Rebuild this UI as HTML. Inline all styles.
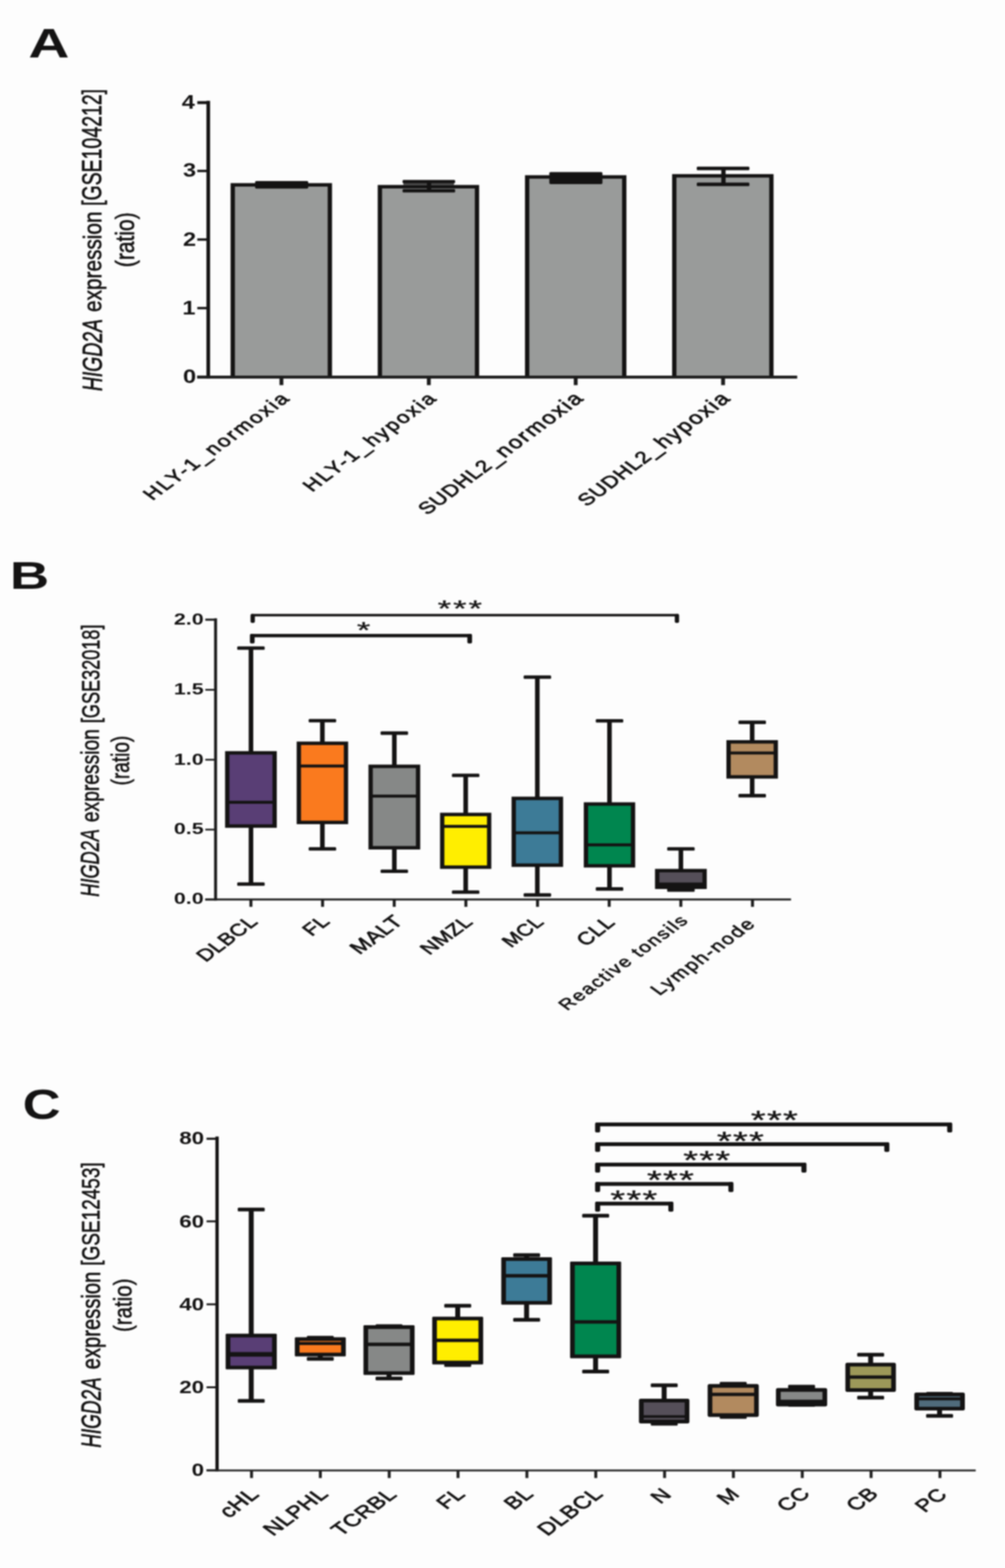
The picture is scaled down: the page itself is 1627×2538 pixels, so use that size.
<!DOCTYPE html>
<html lang="en">
<head>
<meta charset="utf-8">
<title>HIGD2A expression</title>
<style>
html,body{margin:0;padding:0;background:#fdfdfd;}
body{width:1627px;height:2538px;overflow:hidden;}
svg{display:block;}
text{font-family:'Liberation Sans', Arial, Helvetica, sans-serif;fill:#141313;}
</style>
</head>
<body>
<svg width="1627" height="2538" viewBox="0 0 1627 2538">
<defs><filter id="soft" x="0" y="0" width="1627" height="2538" filterUnits="userSpaceOnUse" color-interpolation-filters="sRGB"><feGaussianBlur stdDeviation="1.0"/></filter></defs>
<g filter="url(#soft)">
<rect x="-10" y="-10" width="1647" height="2558" fill="#fdfdfd"/>
<g id="shapes" shape-rendering="geometricPrecision">
<rect x="373.3" y="296.4" width="164.2" height="313.4" fill="#141313"/>
<rect x="380.3" y="302.0" width="150.2" height="307.8" fill="#999b9a"/>
<rect x="611.5" y="299.4" width="164.2" height="310.4" fill="#141313"/>
<rect x="618.5" y="305.0" width="150.2" height="304.8" fill="#999b9a"/>
<rect x="849.9" y="283.6" width="164.2" height="326.2" fill="#141313"/>
<rect x="856.9" y="289.2" width="150.2" height="320.6" fill="#999b9a"/>
<rect x="1088.1" y="281.8" width="164.2" height="328.0" fill="#141313"/>
<rect x="1095.1" y="287.4" width="150.2" height="322.4" fill="#999b9a"/>
<rect x="413.0" y="292.9" width="86.0" height="12.3" fill="#141313" rx="2"/>
<rect x="653.0" y="295.0" width="82.0" height="5.0" fill="#4a4a4a"/>
<rect x="691.1" y="293.5" width="7.0" height="15.5" fill="#141313"/>
<rect x="651.7" y="291.3" width="85.1" height="5.2" rx="1.5" fill="#141313"/>
<rect x="651.7" y="305.9" width="85.1" height="5.6" rx="1.5" fill="#141313"/>
<rect x="889.3" y="278.6" width="86" height="19.4" rx="2" fill="#141313"/>
<rect x="1167.7" y="272.0" width="7.0" height="27.0" fill="#141313"/>
<rect x="1128.0" y="269.8" width="85.2" height="5.6" rx="1.5" fill="#141313"/>
<rect x="1128.0" y="295.6" width="85.2" height="5.6" rx="1.5" fill="#141313"/>
<rect x="334.2" y="163.2" width="5.9" height="449.2" fill="#141313"/>
<rect x="319.4" y="607.9" width="17.7" height="3.8" fill="#141313"/>
<rect x="319.4" y="496.8" width="17.7" height="3.8" fill="#141313"/>
<rect x="319.4" y="385.8" width="17.7" height="3.8" fill="#141313"/>
<rect x="319.4" y="274.8" width="17.7" height="3.8" fill="#141313"/>
<rect x="319.4" y="163.7" width="17.7" height="4.8" fill="#141313"/>
<rect x="319.2" y="608.0" width="971.4" height="4.8" fill="#1c1c1c"/>
<rect x="452.5" y="609.8" width="6.2" height="13.6" fill="#1c1c1c"/>
<rect x="691.1" y="609.8" width="6.2" height="13.6" fill="#1c1c1c"/>
<rect x="928.9" y="609.8" width="6.2" height="13.6" fill="#1c1c1c"/>
<rect x="1167.5" y="609.8" width="6.2" height="13.6" fill="#1c1c1c"/>
<rect x="402.6" y="1049.0" width="7.4" height="167.8" fill="#141313"/>
<rect x="402.6" y="1338.9" width="7.4" height="92.1" fill="#141313"/>
<rect x="384.0" y="1046.2" width="44.5" height="5.6" rx="1.5" fill="#141313"/>
<rect x="384.0" y="1428.2" width="44.5" height="5.6" rx="1.5" fill="#141313"/>
<rect x="364.4" y="1215.8" width="83.7" height="124.1" rx="0" fill="#141313"/>
<rect x="371.4" y="1221.4" width="69.7" height="112.9" fill="#593e75"/>
<rect x="365.4" y="1296.2" width="81.7" height="4.8" fill="#141313"/>
<rect x="518.2" y="1166.5" width="7.4" height="34.8" fill="#141313"/>
<rect x="518.2" y="1333.0" width="7.4" height="41.0" fill="#141313"/>
<rect x="499.7" y="1163.7" width="44.5" height="5.6" rx="1.5" fill="#141313"/>
<rect x="499.7" y="1371.2" width="44.5" height="5.6" rx="1.5" fill="#141313"/>
<rect x="480.3" y="1200.3" width="83.3" height="133.7" rx="0" fill="#141313"/>
<rect x="487.3" y="1205.9" width="69.3" height="122.5" fill="#fa7a1e"/>
<rect x="481.3" y="1237.5" width="81.3" height="4.8" fill="#141313"/>
<rect x="634.7" y="1186.6" width="7.4" height="52.0" fill="#141313"/>
<rect x="634.7" y="1374.0" width="7.4" height="36.3" fill="#141313"/>
<rect x="616.1" y="1183.8" width="44.5" height="5.6" rx="1.5" fill="#141313"/>
<rect x="616.1" y="1407.5" width="44.5" height="5.6" rx="1.5" fill="#141313"/>
<rect x="596.5" y="1237.6" width="83.8" height="137.4" rx="0" fill="#141313"/>
<rect x="603.5" y="1243.2" width="69.8" height="126.2" fill="#868887"/>
<rect x="597.5" y="1286.2" width="81.8" height="4.8" fill="#141313"/>
<rect x="750.2" y="1255.0" width="7.4" height="61.5" fill="#141313"/>
<rect x="750.2" y="1405.4" width="7.4" height="38.6" fill="#141313"/>
<rect x="731.6" y="1252.2" width="44.5" height="5.6" rx="1.5" fill="#141313"/>
<rect x="731.6" y="1441.2" width="44.5" height="5.6" rx="1.5" fill="#141313"/>
<rect x="712.4" y="1315.5" width="83.0" height="90.9" rx="0" fill="#141313"/>
<rect x="719.4" y="1321.1" width="69.0" height="79.7" fill="#ffee00"/>
<rect x="713.4" y="1335.2" width="81.0" height="4.8" fill="#141313"/>
<rect x="866.2" y="1096.0" width="7.4" height="194.5" fill="#141313"/>
<rect x="866.2" y="1402.2" width="7.4" height="46.4" fill="#141313"/>
<rect x="847.7" y="1093.2" width="44.5" height="5.6" rx="1.5" fill="#141313"/>
<rect x="847.7" y="1445.8" width="44.5" height="5.6" rx="1.5" fill="#141313"/>
<rect x="828.2" y="1289.5" width="83.4" height="113.7" rx="0" fill="#141313"/>
<rect x="835.2" y="1295.1" width="69.4" height="102.5" fill="#3d7b97"/>
<rect x="829.2" y="1345.6" width="81.4" height="4.8" fill="#141313"/>
<rect x="983.0" y="1166.8" width="7.4" height="132.8" fill="#141313"/>
<rect x="983.0" y="1403.2" width="7.4" height="35.7" fill="#141313"/>
<rect x="964.5" y="1164.0" width="44.5" height="5.6" rx="1.5" fill="#141313"/>
<rect x="964.5" y="1436.1" width="44.5" height="5.6" rx="1.5" fill="#141313"/>
<rect x="945.1" y="1298.6" width="83.2" height="105.6" rx="0" fill="#141313"/>
<rect x="952.1" y="1304.2" width="69.2" height="94.4" fill="#00864f"/>
<rect x="946.1" y="1365.1" width="81.2" height="4.8" fill="#141313"/>
<rect x="1098.6" y="1374.0" width="7.4" height="33.4" fill="#141313"/>
<rect x="1098.6" y="1437.9" width="7.4" height="2.7" fill="#141313"/>
<rect x="1080.1" y="1371.2" width="44.5" height="5.6" rx="1.5" fill="#141313"/>
<rect x="1080.1" y="1437.8" width="44.5" height="5.6" rx="1.5" fill="#141313"/>
<rect x="1060.4" y="1406.4" width="83.8" height="32.5" rx="0" fill="#141313"/>
<rect x="1067.4" y="1412.0" width="69.8" height="21.3" fill="#554f59"/>
<rect x="1062.4" y="1428.5" width="79.8" height="10.4" fill="#141313"/>
<rect x="1214.0" y="1169.1" width="7.4" height="29.9" fill="#141313"/>
<rect x="1214.0" y="1259.3" width="7.4" height="28.6" fill="#141313"/>
<rect x="1195.5" y="1166.3" width="44.5" height="5.6" rx="1.5" fill="#141313"/>
<rect x="1195.5" y="1285.1" width="44.5" height="5.6" rx="1.5" fill="#141313"/>
<rect x="1176.0" y="1198.0" width="83.4" height="62.3" rx="0" fill="#141313"/>
<rect x="1183.0" y="1203.6" width="69.4" height="51.1" fill="#b28a5f"/>
<rect x="1177.0" y="1216.4" width="81.4" height="4.8" fill="#141313"/>
<rect x="406.6" y="993.7" width="691.8" height="4.0" fill="#141313"/>
<rect x="405.6" y="993.7" width="7.0" height="14.5" rx="2.5" fill="#141313"/>
<rect x="1092.4" y="993.7" width="7.0" height="14.5" rx="2.5" fill="#141313"/>
<rect x="405.6" y="1026.1" width="357.6" height="5.4" fill="#141313"/>
<rect x="404.6" y="1026.1" width="7.6" height="15.3" rx="2.5" fill="#141313"/>
<rect x="756.6" y="1026.1" width="7.6" height="15.3" rx="2.5" fill="#141313"/>
<rect x="346.6" y="1000.8" width="4.8" height="456.8" fill="#1c1c1c"/>
<rect x="332.4" y="1454.6" width="16.6" height="2.8" fill="#1c1c1c"/>
<rect x="332.4" y="1341.4" width="16.6" height="2.8" fill="#1c1c1c"/>
<rect x="332.4" y="1228.3" width="16.6" height="2.8" fill="#1c1c1c"/>
<rect x="332.4" y="1115.1" width="16.6" height="2.8" fill="#1c1c1c"/>
<rect x="332.4" y="1001.3" width="16.6" height="3.4" fill="#1c1c1c"/>
<rect x="332.2" y="1454.3" width="948.4" height="3.2" fill="#1c1c1c"/>
<rect x="403.8" y="1456.0" width="4.8" height="11.8" fill="#1c1c1c"/>
<rect x="519.8" y="1456.0" width="4.8" height="11.8" fill="#1c1c1c"/>
<rect x="635.8" y="1456.0" width="4.8" height="11.8" fill="#1c1c1c"/>
<rect x="751.8" y="1456.0" width="4.8" height="11.8" fill="#1c1c1c"/>
<rect x="867.8" y="1456.0" width="4.8" height="11.8" fill="#1c1c1c"/>
<rect x="983.8" y="1456.0" width="4.8" height="11.8" fill="#1c1c1c"/>
<rect x="1099.8" y="1456.0" width="4.8" height="11.8" fill="#1c1c1c"/>
<rect x="1215.8" y="1456.0" width="4.8" height="11.8" fill="#1c1c1c"/>
<rect x="402.7" y="1957.8" width="8.0" height="202.0" fill="#141313"/>
<rect x="402.7" y="2215.6" width="8.0" height="51.9" fill="#141313"/>
<rect x="384.9" y="1954.8" width="43.6" height="6.0" rx="1.5" fill="#141313"/>
<rect x="384.9" y="2264.5" width="43.6" height="6.0" rx="1.5" fill="#141313"/>
<rect x="365.3" y="2158.8" width="82.8" height="57.8" rx="1.5" fill="#141313"/>
<rect x="372.9" y="2164.8" width="67.6" height="45.8" fill="#593e75"/>
<rect x="366.3" y="2188.5" width="80.8" height="7.4" fill="#141313"/>
<rect x="514.5" y="2194.5" width="8.0" height="4.9" fill="#141313"/>
<rect x="496.7" y="2162.2" width="43.6" height="6.0" rx="1.5" fill="#141313"/>
<rect x="496.7" y="2196.4" width="43.6" height="6.0" rx="1.5" fill="#141313"/>
<rect x="477.3" y="2164.6" width="82.5" height="30.9" rx="1.5" fill="#141313"/>
<rect x="484.9" y="2170.6" width="67.3" height="18.9" fill="#fa7a1e"/>
<rect x="478.3" y="2172.1" width="80.5" height="5.0" fill="#141313"/>
<rect x="625.8" y="2224.6" width="8.0" height="6.6" fill="#141313"/>
<rect x="608.0" y="2143.4" width="43.6" height="6.0" rx="1.5" fill="#141313"/>
<rect x="608.0" y="2228.2" width="43.6" height="6.0" rx="1.5" fill="#141313"/>
<rect x="588.4" y="2145.1" width="82.8" height="80.5" rx="1.5" fill="#141313"/>
<rect x="596.0" y="2151.1" width="67.6" height="68.5" fill="#868887"/>
<rect x="589.4" y="2173.2" width="80.8" height="5.6" fill="#141313"/>
<rect x="737.0" y="2113.6" width="8.0" height="18.6" fill="#141313"/>
<rect x="737.0" y="2207.4" width="8.0" height="2.0" fill="#141313"/>
<rect x="719.2" y="2110.6" width="43.6" height="6.0" rx="1.5" fill="#141313"/>
<rect x="719.2" y="2206.4" width="43.6" height="6.0" rx="1.5" fill="#141313"/>
<rect x="699.7" y="2131.2" width="82.5" height="77.2" rx="1.5" fill="#141313"/>
<rect x="707.3" y="2137.2" width="67.3" height="65.2" fill="#ffee00"/>
<rect x="700.7" y="2166.7" width="80.5" height="5.6" fill="#141313"/>
<rect x="848.5" y="2031.6" width="8.0" height="4.3" fill="#141313"/>
<rect x="848.5" y="2110.8" width="8.0" height="25.4" fill="#141313"/>
<rect x="830.8" y="2028.6" width="43.6" height="6.0" rx="1.5" fill="#141313"/>
<rect x="830.8" y="2133.2" width="43.6" height="6.0" rx="1.5" fill="#141313"/>
<rect x="811.5" y="2034.9" width="82.1" height="76.9" rx="1.5" fill="#141313"/>
<rect x="819.1" y="2040.9" width="66.9" height="64.9" fill="#3d7b97"/>
<rect x="812.5" y="2062.2" width="80.1" height="5.6" fill="#141313"/>
<rect x="960.2" y="1967.7" width="8.0" height="75.3" fill="#141313"/>
<rect x="960.2" y="2197.4" width="8.0" height="22.6" fill="#141313"/>
<rect x="942.5" y="1964.7" width="43.6" height="6.0" rx="1.5" fill="#141313"/>
<rect x="942.5" y="2217.0" width="43.6" height="6.0" rx="1.5" fill="#141313"/>
<rect x="922.9" y="2042.0" width="82.7" height="156.4" rx="1.5" fill="#141313"/>
<rect x="930.5" y="2048.0" width="67.5" height="144.4" fill="#00864f"/>
<rect x="923.9" y="2136.9" width="80.7" height="5.6" fill="#141313"/>
<rect x="1071.2" y="2242.2" width="8.0" height="22.8" fill="#141313"/>
<rect x="1071.2" y="2302.9" width="8.0" height="1.5" fill="#141313"/>
<rect x="1053.5" y="2239.2" width="43.6" height="6.0" rx="1.5" fill="#141313"/>
<rect x="1053.5" y="2301.4" width="43.6" height="6.0" rx="1.5" fill="#141313"/>
<rect x="1034.4" y="2264.0" width="81.7" height="39.9" rx="3" fill="#141313"/>
<rect x="1042.0" y="2270.0" width="66.5" height="27.9" fill="#554f59"/>
<rect x="1035.4" y="2290.7" width="79.7" height="4.2" fill="#141313"/>
<rect x="1183.0" y="2239.8" width="8.0" height="1.5" fill="#141313"/>
<rect x="1183.0" y="2292.5" width="8.0" height="1.1" fill="#141313"/>
<rect x="1165.2" y="2236.8" width="43.6" height="6.0" rx="1.5" fill="#141313"/>
<rect x="1165.2" y="2290.6" width="43.6" height="6.0" rx="1.5" fill="#141313"/>
<rect x="1145.6" y="2240.3" width="82.8" height="53.2" rx="3" fill="#141313"/>
<rect x="1153.2" y="2246.3" width="67.6" height="41.2" fill="#b28a5f"/>
<rect x="1146.6" y="2254.3" width="80.8" height="5.4" fill="#141313"/>
<rect x="1293.7" y="2244.6" width="8.0" height="3.2" fill="#141313"/>
<rect x="1275.9" y="2241.6" width="43.6" height="6.0" rx="1.5" fill="#141313"/>
<rect x="1275.9" y="2271.0" width="43.6" height="6.0" rx="1.5" fill="#141313"/>
<rect x="1256.2" y="2246.8" width="82.9" height="29.6" rx="3" fill="#141313"/>
<rect x="1263.8" y="2252.8" width="67.7" height="17.6" fill="#868887"/>
<rect x="1257.2" y="2265.6" width="80.9" height="5.8" fill="#141313"/>
<rect x="1405.5" y="2192.8" width="8.0" height="14.0" fill="#141313"/>
<rect x="1405.5" y="2252.0" width="8.0" height="10.3" fill="#141313"/>
<rect x="1387.7" y="2189.8" width="43.6" height="6.0" rx="1.5" fill="#141313"/>
<rect x="1387.7" y="2259.3" width="43.6" height="6.0" rx="1.5" fill="#141313"/>
<rect x="1368.6" y="2205.8" width="81.8" height="47.2" rx="3" fill="#141313"/>
<rect x="1376.2" y="2211.8" width="66.6" height="35.2" fill="#9c9859"/>
<rect x="1369.6" y="2226.3" width="79.8" height="5.4" fill="#141313"/>
<rect x="1517.1" y="2282.1" width="8.0" height="9.6" fill="#141313"/>
<rect x="1499.3" y="2253.0" width="43.6" height="6.0" rx="1.5" fill="#141313"/>
<rect x="1499.3" y="2288.7" width="43.6" height="6.0" rx="1.5" fill="#141313"/>
<rect x="1480.2" y="2254.0" width="81.8" height="29.1" rx="3" fill="#141313"/>
<rect x="1487.8" y="2260.0" width="66.6" height="17.1" fill="#4f6b7b"/>
<rect x="1481.2" y="2261.8" width="79.8" height="4.8" fill="#141313"/>
<rect x="964.4" y="1816.9" width="576.2" height="6.2" fill="#141313"/>
<rect x="963.4" y="1816.9" width="8.2" height="16.1" rx="2.5" fill="#141313"/>
<rect x="1533.4" y="1816.9" width="8.2" height="16.1" rx="2.5" fill="#141313"/>
<rect x="964.4" y="1848.9" width="474.4" height="6.2" fill="#141313"/>
<rect x="963.4" y="1848.9" width="8.2" height="15.7" rx="2.5" fill="#141313"/>
<rect x="1431.6" y="1848.9" width="8.2" height="15.7" rx="2.5" fill="#141313"/>
<rect x="964.4" y="1881.9" width="340.2" height="6.2" fill="#141313"/>
<rect x="963.4" y="1881.9" width="8.2" height="16.1" rx="2.5" fill="#141313"/>
<rect x="1297.4" y="1881.9" width="8.2" height="16.1" rx="2.5" fill="#141313"/>
<rect x="964.4" y="1913.3" width="222.0" height="6.2" fill="#141313"/>
<rect x="963.4" y="1913.3" width="8.2" height="16.1" rx="2.5" fill="#141313"/>
<rect x="1179.2" y="1913.3" width="8.2" height="16.1" rx="2.5" fill="#141313"/>
<rect x="964.4" y="1945.1" width="124.8" height="6.2" fill="#141313"/>
<rect x="963.4" y="1945.1" width="8.2" height="16.1" rx="2.5" fill="#141313"/>
<rect x="1082.0" y="1945.1" width="8.2" height="16.1" rx="2.5" fill="#141313"/>
<rect x="348.7" y="1839.6" width="5.4" height="542.0" fill="#141313"/>
<rect x="334.4" y="2378.3" width="17.0" height="3.0" fill="#141313"/>
<rect x="334.4" y="2244.0" width="17.0" height="3.0" fill="#141313"/>
<rect x="334.4" y="2109.7" width="17.0" height="3.0" fill="#141313"/>
<rect x="334.4" y="1975.4" width="17.0" height="3.0" fill="#141313"/>
<rect x="334.4" y="1841.5" width="17.0" height="3.4" fill="#141313"/>
<rect x="334.4" y="2378.6" width="1245.2" height="3.0" fill="#222222"/>
<rect x="404.8" y="2379.8" width="4.8" height="12.6" fill="#222222"/>
<rect x="516.2" y="2379.8" width="4.8" height="12.6" fill="#222222"/>
<rect x="627.7" y="2379.8" width="4.8" height="12.6" fill="#222222"/>
<rect x="739.1" y="2379.8" width="4.8" height="12.6" fill="#222222"/>
<rect x="850.6" y="2379.8" width="4.8" height="12.6" fill="#222222"/>
<rect x="962.1" y="2379.8" width="4.8" height="12.6" fill="#222222"/>
<rect x="1073.5" y="2379.8" width="4.8" height="12.6" fill="#222222"/>
<rect x="1184.9" y="2379.8" width="4.8" height="12.6" fill="#222222"/>
<rect x="1296.4" y="2379.8" width="4.8" height="12.6" fill="#222222"/>
<rect x="1407.8" y="2379.8" width="4.8" height="12.6" fill="#222222"/>
<rect x="1519.3" y="2379.8" width="4.8" height="12.6" fill="#222222"/>
</g>
<g id="texts">
<text id="pA" transform="translate(46.07,93.45) scale(2.2969,1.6861) rotate(0)" font-size="40" font-weight="bold">A</text>
<text id="pB" transform="translate(16.02,953.42) scale(2.2019,1.5797) rotate(0)" font-size="40" font-weight="bold">B</text>
<text id="pC" transform="translate(36.84,1811.37) scale(2.1233,1.6934) rotate(0)" font-size="40" font-weight="bold">C</text>
<text id="ylA1a" transform="translate(165.03,633.05) scale(1.1125,0.7837) rotate(-90)" font-size="40" stroke="#141313" stroke-width="0.9" stroke-linejoin="round"><tspan font-style="italic">HIGD2A</tspan></text>
<text id="ylA1b" transform="translate(164.24,504.90) scale(1.0220,0.8411) rotate(-90)" font-size="40" stroke="#141313" stroke-width="0.9" stroke-linejoin="round">expression</text>
<text id="ylA1c" transform="translate(163.64,333.37) scale(1.1021,0.7890) rotate(-90)" font-size="40" stroke="#141313" stroke-width="0.9" stroke-linejoin="round">[GSE104212]</text>
<text id="ylA2" transform="translate(216.99,432.43) scale(1.0440,0.8501) rotate(-90)" font-size="40" stroke="#141313" stroke-width="0.9" stroke-linejoin="round">(ratio)</text>
<text id="ylB1a" transform="translate(160.43,1451.50) scale(1.0625,0.7357) rotate(-90)" font-size="40" stroke="#141313" stroke-width="0.9" stroke-linejoin="round"><tspan font-style="italic">HIGD2A</tspan></text>
<text id="ylB1b" transform="translate(160.00,1330.70) scale(1.0000,0.7779) rotate(-90)" font-size="40" stroke="#141313" stroke-width="0.9" stroke-linejoin="round">expression</text>
<text id="ylB1c" transform="translate(160.73,1170.54) scale(1.0212,0.7324) rotate(-90)" font-size="40" stroke="#141313" stroke-width="0.9" stroke-linejoin="round">[GSE32018]</text>
<text id="ylB2" transform="translate(209.37,1271.15) scale(1.0326,0.7684) rotate(-90)" font-size="40" stroke="#141313" stroke-width="0.9" stroke-linejoin="round">(ratio)</text>
<text id="ylC1a" transform="translate(162.70,2343.25) scale(1.0875,0.7644) rotate(-90)" font-size="40" stroke="#141313" stroke-width="0.9" stroke-linejoin="round"><tspan font-style="italic">HIGD2A</tspan></text>
<text id="ylC1b" transform="translate(161.94,2216.50) scale(1.0649,0.8179) rotate(-90)" font-size="40" stroke="#141313" stroke-width="0.9" stroke-linejoin="round">expression</text>
<text id="ylC1c" transform="translate(161.11,2048.66) scale(1.0325,0.7673) rotate(-90)" font-size="40" stroke="#141313" stroke-width="0.9" stroke-linejoin="round">[GSE12453]</text>
<text id="ylC2" transform="translate(213.08,2155.99) scale(1.0280,0.8281) rotate(-90)" font-size="40" stroke="#141313" stroke-width="0.9" stroke-linejoin="round">(ratio)</text>
<text id="tA0" transform="translate(296.20,620.00) scale(0.9550,0.7700) rotate(0)" font-size="40" font-weight="bold" fill="#1c1b1b">0</text>
<text id="tA1" transform="translate(295.20,508.75) scale(0.9550,0.7700) rotate(0)" font-size="40" font-weight="bold" fill="#1c1b1b">1</text>
<text id="tA2" transform="translate(296.20,397.50) scale(0.9550,0.7700) rotate(0)" font-size="40" font-weight="bold" fill="#1c1b1b">2</text>
<text id="tA3" transform="translate(296.20,286.25) scale(0.9550,0.7700) rotate(0)" font-size="40" font-weight="bold" fill="#1c1b1b">3</text>
<text id="tA4" transform="translate(294.20,176.00) scale(0.9550,0.7700) rotate(0)" font-size="40" font-weight="bold" fill="#1c1b1b">4</text>
<text id="tB0" transform="translate(281.60,1463.00) scale(0.8650,0.6325) rotate(0)" font-size="40" font-weight="bold" fill="#1c1b1b">0.0</text>
<text id="tB1" transform="translate(281.60,1350.25) scale(0.8650,0.6325) rotate(0)" font-size="40" font-weight="bold" fill="#1c1b1b">0.5</text>
<text id="tB2" transform="translate(281.60,1237.50) scale(0.8650,0.6325) rotate(0)" font-size="40" font-weight="bold" fill="#1c1b1b">1.0</text>
<text id="tB3" transform="translate(281.60,1123.75) scale(0.8650,0.6325) rotate(0)" font-size="40" font-weight="bold" fill="#1c1b1b">1.5</text>
<text id="tB4" transform="translate(281.60,1011.00) scale(0.8650,0.6325) rotate(0)" font-size="40" font-weight="bold" fill="#1c1b1b">2.0</text>
<text id="tC0" transform="translate(310.35,2389.00) scale(0.9050,0.7200) rotate(0)" font-size="40" font-weight="bold" fill="#1c1b1b">0</text>
<text id="tC1" transform="translate(290.15,2254.50) scale(0.9050,0.7200) rotate(0)" font-size="40" font-weight="bold" fill="#1c1b1b">20</text>
<text id="tC2" transform="translate(290.15,2121.00) scale(0.9050,0.7200) rotate(0)" font-size="40" font-weight="bold" fill="#1c1b1b">40</text>
<text id="tC3" transform="translate(290.15,1986.50) scale(0.9050,0.7200) rotate(0)" font-size="40" font-weight="bold" fill="#1c1b1b">60</text>
<text id="tC4" transform="translate(290.15,1852.00) scale(0.9050,0.7200) rotate(0)" font-size="40" font-weight="bold" fill="#1c1b1b">80</text>
<text id="xA0" transform="translate(472.28,645.35) scale(0.9126,0.6693) rotate(-45)" font-size="40" text-anchor="end" stroke="#141313" stroke-width="1.5" stroke-linejoin="round" letter-spacing="4.0">HLY-1_normoxia</text>
<text id="xA1" transform="translate(710.05,645.38) scale(0.9087,0.6724) rotate(-45)" font-size="40" text-anchor="end" stroke="#141313" stroke-width="1.5" stroke-linejoin="round" letter-spacing="4.0">HLY-1_hypoxia</text>
<text id="xA2" transform="translate(947.82,645.37) scale(0.9085,0.6701) rotate(-45)" font-size="40" text-anchor="end" stroke="#141313" stroke-width="1.5" stroke-linejoin="round" letter-spacing="3.4"><tspan letter-spacing="1.6">SUDHL2</tspan><tspan font-size="43">_normoxia</tspan></text>
<text id="xA3" transform="translate(1185.59,645.42) scale(0.9084,0.6755) rotate(-45)" font-size="40" text-anchor="end" stroke="#141313" stroke-width="1.5" stroke-linejoin="round" letter-spacing="3.4"><tspan letter-spacing="1.6">SUDHL2</tspan><tspan font-size="43">_hypoxia</tspan></text>
<text id="xB0" transform="translate(419.25,1493.29) scale(0.9117,0.6843) rotate(-45)" font-size="40" text-anchor="end" stroke="#141313" stroke-width="1.4" stroke-linejoin="round" letter-spacing="1.0">DLBCL</text>
<text id="xB1" transform="translate(535.85,1492.85) scale(0.9075,0.6825) rotate(-45)" font-size="40" text-anchor="end" stroke="#141313" stroke-width="1.4" stroke-linejoin="round" letter-spacing="1.0">FL</text>
<text id="xB2" transform="translate(654.66,1492.87) scale(0.9536,0.6948) rotate(-45)" font-size="40" text-anchor="end" stroke="#141313" stroke-width="1.4" stroke-linejoin="round" letter-spacing="1.0">MALT</text>
<text id="xB3" transform="translate(767.44,1493.60) scale(0.9073,0.6622) rotate(-45)" font-size="40" text-anchor="end" stroke="#141313" stroke-width="1.4" stroke-linejoin="round" letter-spacing="1.0">NMZL</text>
<text id="xB4" transform="translate(882.32,1493.71) scale(0.8899,0.6638) rotate(-45)" font-size="40" text-anchor="end" stroke="#141313" stroke-width="1.4" stroke-linejoin="round" letter-spacing="1.0">MCL</text>
<text id="xB5" transform="translate(997.45,1494.21) scale(0.9124,0.7159) rotate(-45)" font-size="40" text-anchor="end" stroke="#141313" stroke-width="1.4" stroke-linejoin="round" letter-spacing="1.0">CLL</text>
<text id="xB6" transform="translate(1117.01,1490.52) scale(0.8418,0.6180) rotate(-45)" font-size="40" text-anchor="end" stroke="#141313" stroke-width="1.4" stroke-linejoin="round" letter-spacing="3.4">Reactive tonsils</text>
<text id="xB7" transform="translate(1225.78,1496.05) scale(0.8781,0.6450) rotate(-45)" font-size="40" text-anchor="end" stroke="#141313" stroke-width="1.4" stroke-linejoin="round" letter-spacing="3.4">Lymph-node</text>
<text id="xC0" transform="translate(421.57,2419.82) scale(0.9710,0.7339) rotate(-45)" font-size="40" text-anchor="end" stroke="#141313" stroke-width="1.4" stroke-linejoin="round" letter-spacing="1.0">cHL</text>
<text id="xC1" transform="translate(533.69,2419.62) scale(0.9681,0.7110) rotate(-45)" font-size="40" text-anchor="end" stroke="#141313" stroke-width="1.4" stroke-linejoin="round" letter-spacing="1.0">NLPHL</text>
<text id="xC2" transform="translate(644.60,2420.32) scale(0.9632,0.6950) rotate(-45)" font-size="40" text-anchor="end" stroke="#141313" stroke-width="1.4" stroke-linejoin="round" letter-spacing="1.0">TCRBL</text>
<text id="xC3" transform="translate(755.05,2419.85) scale(0.9500,0.7000) rotate(-45)" font-size="40" text-anchor="end" stroke="#141313" stroke-width="1.4" stroke-linejoin="round" letter-spacing="1.0">FL</text>
<text id="xC4" transform="translate(865.70,2419.50) scale(0.9500,0.7000) rotate(-45)" font-size="40" text-anchor="end" stroke="#141313" stroke-width="1.4" stroke-linejoin="round" letter-spacing="1.0">BL</text>
<text id="xC5" transform="translate(978.42,2419.62) scale(0.9767,0.7110) rotate(-45)" font-size="40" text-anchor="end" stroke="#141313" stroke-width="1.4" stroke-linejoin="round" letter-spacing="1.0">DLBCL</text>
<text id="xC6" transform="translate(1089.00,2420.15) scale(0.9500,0.7000) rotate(-45)" font-size="40" text-anchor="end" stroke="#141313" stroke-width="1.4" stroke-linejoin="round" letter-spacing="1.0">N</text>
<text id="xC7" transform="translate(1199.40,2419.85) scale(0.9500,0.7000) rotate(-45)" font-size="40" text-anchor="end" stroke="#141313" stroke-width="1.4" stroke-linejoin="round" letter-spacing="1.0">M</text>
<text id="xC8" transform="translate(1313.50,2418.70) scale(0.9500,0.7000) rotate(-45)" font-size="40" text-anchor="end" stroke="#141313" stroke-width="1.4" stroke-linejoin="round" letter-spacing="1.0">CC</text>
<text id="xC9" transform="translate(1424.05,2419.05) scale(0.9500,0.7000) rotate(-45)" font-size="40" text-anchor="end" stroke="#141313" stroke-width="1.4" stroke-linejoin="round" letter-spacing="1.0">CB</text>
<text id="xC10" transform="translate(1535.65,2420.55) scale(0.9500,0.7000) rotate(-45)" font-size="40" text-anchor="end" stroke="#141313" stroke-width="1.4" stroke-linejoin="round" letter-spacing="1.0">PC</text>
<text id="sB0" transform="translate(708.50,997.50) scale(1.4000,0.9375) rotate(0)" font-size="40" fill="#2c2b2b" stroke="#2c2b2b" stroke-width="0.5" stroke-linejoin="round" letter-spacing="2.3">***</text>
<text id="sB1" transform="translate(577.75,1032.50) scale(1.4000,0.9375) rotate(0)" font-size="40" fill="#2c2b2b" stroke="#2c2b2b" stroke-width="0.5" stroke-linejoin="round" letter-spacing="2.3">*</text>
<text id="sC0" transform="translate(1215.50,1826.50) scale(1.5500,1.0750) rotate(0)" font-size="40" fill="#2c2b2b" stroke="#2c2b2b" stroke-width="0.5" stroke-linejoin="round" letter-spacing="1.2">***</text>
<text id="sC1" transform="translate(1160.50,1860.75) scale(1.5500,1.0750) rotate(0)" font-size="40" fill="#2c2b2b" stroke="#2c2b2b" stroke-width="0.5" stroke-linejoin="round" letter-spacing="1.2">***</text>
<text id="sC2" transform="translate(1106.00,1892.00) scale(1.5500,1.0750) rotate(0)" font-size="40" fill="#2c2b2b" stroke="#2c2b2b" stroke-width="0.5" stroke-linejoin="round" letter-spacing="1.2">***</text>
<text id="sC3" transform="translate(1047.25,1924.00) scale(1.5500,1.0750) rotate(0)" font-size="40" fill="#2c2b2b" stroke="#2c2b2b" stroke-width="0.5" stroke-linejoin="round" letter-spacing="1.2">***</text>
<text id="sC4" transform="translate(988.00,1955.50) scale(1.5500,1.0750) rotate(0)" font-size="40" fill="#2c2b2b" stroke="#2c2b2b" stroke-width="0.5" stroke-linejoin="round" letter-spacing="1.2">***</text>
</g>
</g>
</svg>
</body>
</html>
